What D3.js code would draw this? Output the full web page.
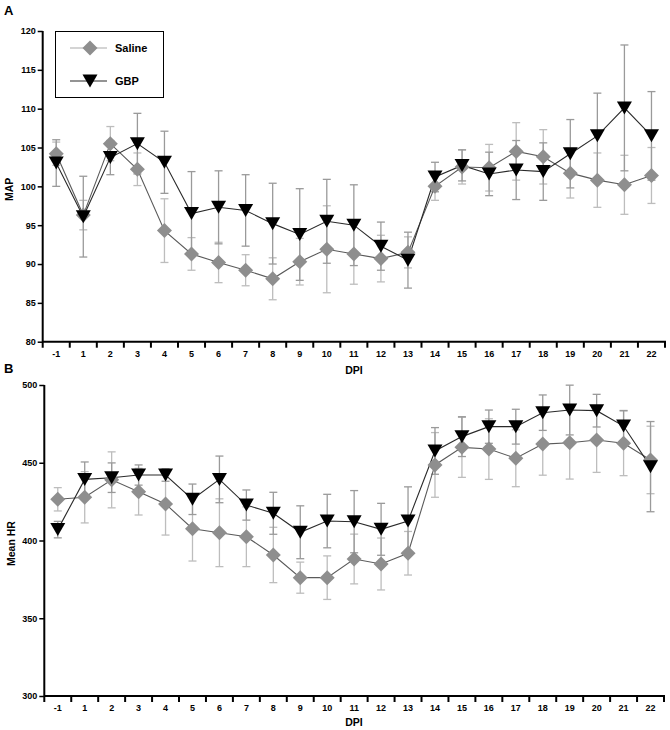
<!DOCTYPE html>
<html>
<head>
<meta charset="utf-8">
<script src="https://cdn.jsdelivr.net/npm/d3@7"></script>
<style>
  html, body { margin: 0; padding: 0; background: #fff; }
  svg { display: block; }
  text { font-family: "Liberation Sans", Arial, sans-serif; font-weight: bold; fill: #000; }
</style>
</head>
<body>
<svg id="chart" width="670" height="730"></svg>
<script>
const days = ["-1","1","2","3","4","5","6","7","8","9","10","11","12","13","14","15","16","17","18","19","20","21","22"];

const mapSaline    = [104.2, 96.3, 105.5, 102.2, 94.3, 91.3, 90.2, 89.2, 88.1, 90.3, 91.9, 91.3, 90.7, 91.5, 100.0, 102.5, 102.4, 104.5, 103.8, 101.7, 100.8, 100.2, 101.4];
const mapSalineErr = [1.5, 1.9, 2.2, 2.1, 4.1, 2.1, 2.6, 2.0, 2.7, 3.0, 5.6, 3.9, 3.0, 2.0, 1.8, 2.2, 3.0, 3.7, 3.5, 3.2, 3.5, 3.8, 3.6];
const mapGBP       = [103.0, 96.1, 103.7, 105.5, 103.1, 96.5, 97.3, 96.9, 95.2, 93.8, 95.5, 95.0, 92.3, 90.5, 101.2, 102.7, 101.6, 102.1, 101.9, 104.2, 106.5, 110.1, 106.5];
const mapGBPErr    = [3.0, 5.2, 2.2, 3.9, 4.0, 5.4, 4.7, 4.6, 5.2, 5.9, 5.4, 5.2, 3.1, 3.6, 1.9, 2.0, 2.8, 3.8, 3.7, 4.4, 5.5, 8.1, 5.7];

const hrSaline    = [426.5, 427.8, 439.0, 431.4, 423.5, 407.6, 405.0, 402.4, 390.7, 376.1, 376.1, 388.1, 384.9, 391.8, 448.6, 459.9, 458.8, 452.9, 462.0, 462.9, 464.6, 462.5, 451.8];
const hrSalineErr = [7.5, 16.5, 18, 15, 20, 20.8, 21.8, 19.2, 17.8, 10, 14, 16, 16.7, 14, 20.8, 19.3, 19.5, 18.3, 20, 23.4, 20.8, 20.8, 21.7];
const hrGBP       = [407.0, 439.3, 440.4, 442.1, 442.1, 426.5, 439.3, 422.8, 417.5, 405.3, 412.5, 412.1, 407.2, 412.5, 457.6, 466.8, 473.2, 473.2, 482.2, 483.9, 483.5, 473.6, 447.5];
const hrGBPErr    = [5.3, 11.2, 9.5, 6.5, 4, 9.8, 15, 9.7, 13.5, 17, 17.2, 20, 16.7, 22, 15, 12.8, 10.7, 11.2, 11.4, 16, 10.5, 10, 29];

const mapTicks = [80, 85, 90, 95, 100, 105, 110, 115, 120];
const hrTicks = [300, 350, 400, 450, 500];

const seriesNames = ["Saline", "GBP"];
const xTitle = "DPI";

const svg = d3.select("#chart");

const diamondPath = "M0,-7.5L7.5,0L0,7.5L-7.5,0Z";
const trianglePath = "M-7.5,-6.5L7.5,-6.5L0,6.5Z";

const salineStyle = { fill: "#8e8e8e", line: "#5a5a5a", err: "#bdbdbd", path: diamondPath };
const gbpStyle = { fill: "#000", line: "#2a2a2a", err: "#9a9a9a", path: trianglePath };

function panel(opts) {
  const x = d3.scaleBand().domain(days).range([opts.x0, opts.x1]).padding(0);
  const y = d3.scaleLinear().domain(opts.domain).range([opts.yb, opts.yt]);
  const g = svg.append("g");

  // y axis
  const ya = g.append("g").attr("transform", `translate(${opts.x0},0)`)
    .call(d3.axisLeft(y).tickValues(opts.ticks).tickSize(5).tickPadding(2).tickFormat(d3.format("d")));
  ya.select(".domain").attr("stroke", "#000").attr("stroke-width", 2)
    .attr("d", `M0,${opts.yt}V${opts.yb + 6}`);
  ya.selectAll(".tick line").attr("stroke", "#000").attr("stroke-width", 1.5);
  ya.selectAll("text").style("font-size", "9px").style("font-weight", "bold");

  // x axis (labels)
  const xa = g.append("g").attr("transform", `translate(0,${opts.yb})`)
    .call(d3.axisBottom(x).tickSize(0).tickPadding(9));
  xa.select(".domain").attr("stroke", "#000").attr("stroke-width", 2)
    .attr("d", `M${opts.x0},0H${opts.x1 + 1}`);
  xa.selectAll("text").style("font-size", "9px").style("font-weight", "bold");
  // boundary ticks
  const bounds = days.map(d => x(d)).concat([x(days[days.length - 1]) + x.bandwidth()]);
  g.selectAll(".btick").data(bounds.slice(1)).enter().append("line")
    .attr("x1", d => d).attr("x2", d => d)
    .attr("y1", opts.yb).attr("y2", opts.yb + 6)
    .attr("stroke", "#000").attr("stroke-width", 2);

  // titles
  g.append("text").attr("x", 354).attr("y", opts.xTitleY).attr("text-anchor", "middle")
    .style("font-size", "10.5px").text(xTitle);
  g.append("text").attr("transform", `translate(${opts.yTitleX},${(opts.yt + opts.yb) / 2 + 3}) rotate(-90)`)
    .attr("text-anchor", "middle").style("font-size", "10.5px").text(opts.yTitle);
  g.append("text").attr("x", 4).attr("y", opts.letterY).style("font-size", "13px").text(opts.letter);

  const cx = d => x(d) + x.bandwidth() / 2;

  const series = [
    { vals: opts.saline, err: opts.salineErr, st: salineStyle },
    { vals: opts.gbp, err: opts.gbpErr, st: gbpStyle }
  ];

  // error bars
  series.forEach(s => {
    const eg = g.append("g");
    days.forEach((d, i) => {
      const v = s.vals[i], e = s.err[i];
      eg.append("line").attr("x1", cx(d)).attr("x2", cx(d))
        .attr("y1", y(v - e)).attr("y2", y(v + e)).attr("stroke", s.st.err).attr("stroke-width", 1.3);
      [v - e, v + e].forEach(t => {
        eg.append("line").attr("x1", cx(d) - 4).attr("x2", cx(d) + 4)
          .attr("y1", y(t)).attr("y2", y(t)).attr("stroke", s.st.err).attr("stroke-width", 1.3);
      });
    });
  });

  // lines + markers
  series.forEach(s => {
    const line = d3.line().x((v, i) => cx(days[i])).y(v => y(v));
    g.append("path").attr("d", line(s.vals)).attr("fill", "none")
      .attr("stroke", s.st.line).attr("stroke-width", 1.1);
  });
  series.forEach(s => {
    g.selectAll(null).data(s.vals).enter().append("path")
      .attr("d", s.st.path)
      .attr("transform", (v, i) => `translate(${cx(days[i])},${y(v)})`)
      .attr("fill", s.st.fill);
  });

  return g;
}

panel({
  x0: 42.7, x1: 665, yt: 31, yb: 341.7, domain: [80, 120], ticks: mapTicks,
  saline: mapSaline, salineErr: mapSalineErr, gbp: mapGBP, gbpErr: mapGBPErr,
  xTitleY: 374, yTitle: "MAP", yTitleX: 13, letter: "A", letterY: 15
});

panel({
  x0: 44.3, x1: 664, yt: 385, yb: 696, domain: [300, 500], ticks: hrTicks,
  saline: hrSaline, salineErr: hrSalineErr, gbp: hrGBP, gbpErr: hrGBPErr,
  xTitleY: 726, yTitle: "Mean HR", yTitleX: 15, letter: "B", letterY: 373
});

// legend
const lg = svg.append("g");
lg.append("rect").attr("x", 55.5).attr("y", 31.5).attr("width", 108).attr("height", 66)
  .attr("fill", "#fff").attr("stroke", "#000").attr("stroke-width", 1);
[salineStyle, gbpStyle].forEach((st, i) => {
  const yy = 48 + i * 33;
  lg.append("line").attr("x1", 70).attr("x2", 107).attr("y1", yy).attr("y2", yy)
    .attr("stroke", i === 0 ? "#aaa" : "#2a2a2a").attr("stroke-width", 1.1);
  lg.append("path").attr("d", st.path).attr("transform", `translate(90,${yy})`).attr("fill", st.fill);
  lg.append("text").attr("x", 115).attr("y", yy + 4).style("font-size", "11px").text(seriesNames[i]);
});
</script>
</body>
</html>
